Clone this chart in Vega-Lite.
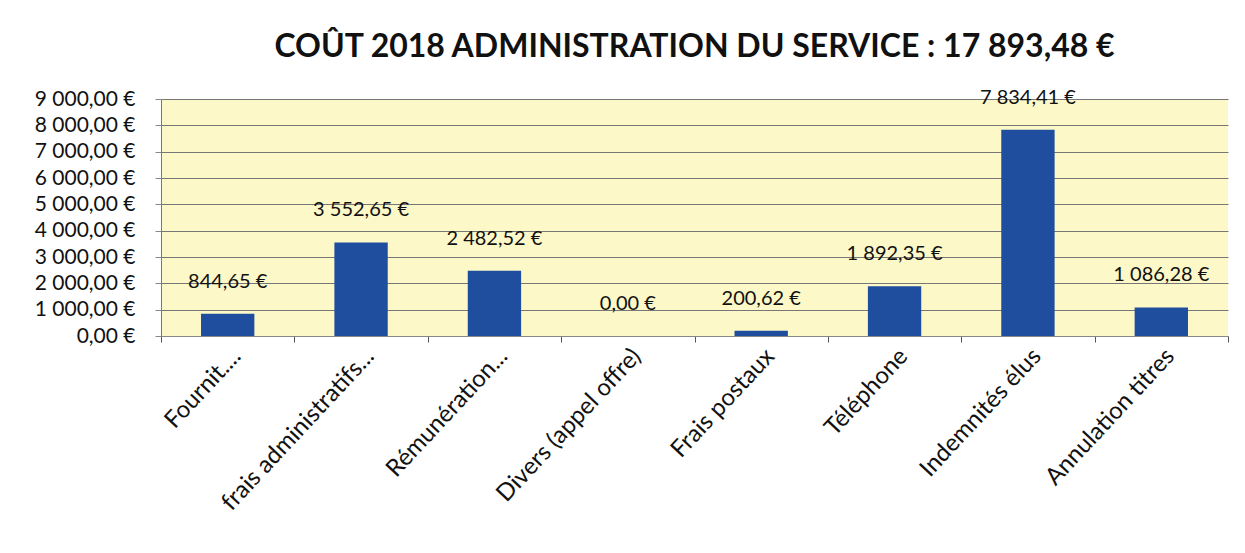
{
  "$schema": "https://vega.github.io/schema/vega-lite/v6.json",
  "width": 1067,
  "height": 237,
  "autosize": {"type": "none"},
  "padding": {"left": 161, "top": 99, "right": 17, "bottom": 217},
  "background": "white",
  "config": {
    "locale": {"number": {"decimal": ",", "thousands": " ", "grouping": [3], "currency": ["", " €"]}},
    "view": {"fill": "#FCF8C8", "stroke": null},
    "font": "Lato"
  },
  "title": {
    "text": "COÛT 2018 ADMINISTRATION DU SERVICE : 17 893,48 €",
    "fontSize": 32,
    "font": "Lato",
    "fontWeight": "bold",
    "color": "#111111",
    "anchor": "middle",
    "offset": 24
  },
  "data": {
    "values": [
      {"categorie": "Fournit....", "montant": 844.65},
      {"categorie": "frais administratifs...", "montant": 3552.65},
      {"categorie": "Rémunération...", "montant": 2482.52},
      {"categorie": "Divers (appel offre)", "montant": 0},
      {"categorie": "Frais postaux", "montant": 200.62},
      {"categorie": "Téléphone", "montant": 1892.35},
      {"categorie": "Indemnités élus", "montant": 7834.41},
      {"categorie": "Annulation titres", "montant": 1086.28}
    ]
  },
  "encoding": {
    "x": {
      "field": "categorie",
      "type": "nominal",
      "sort": null,
      "scale": {"paddingInner": 0, "paddingOuter": 0},
      "axis": {
        "title": null,
        "labelAngle": -47,
        "labelFontSize": 24,
        "labelColor": "#111111",
        "labelPadding": 2,
        "tickBand": "extent",
        "tickColor": "#555555",
        "tickSize": 6,
        "domainColor": "#888888",
        "labelAlign": "right",
        "labelBaseline": "top",
        "labelLimit": 400
      }
    },
    "y": {
      "field": "montant",
      "type": "quantitative",
      "scale": {"domain": [0, 9000], "nice": false},
      "axis": {
        "title": null,
        "values": [0, 1000, 2000, 3000, 4000, 5000, 6000, 7000, 8000, 9000],
        "format": "$,.2f",
        "labelFontSize": 21,
        "labelColor": "#111111",
        "labelPadding": 20,
        "tickColor": "#888888",
        "tickSize": 6,
        "domainColor": "#777777",
        "gridColor": "#777777",
        "gridWidth": 1
      }
    }
  },
  "layer": [
    {
      "mark": {"type": "bar", "width": {"band": 0.4}, "color": "#1F4E9E"}
    },
    {
      "mark": {"type": "text", "baseline": "bottom", "dy": -22, "fontSize": 20, "color": "#111111"},
      "encoding": {
        "text": {"field": "montant", "type": "quantitative", "format": "$,.2f"}
      }
    }
  ]
}
